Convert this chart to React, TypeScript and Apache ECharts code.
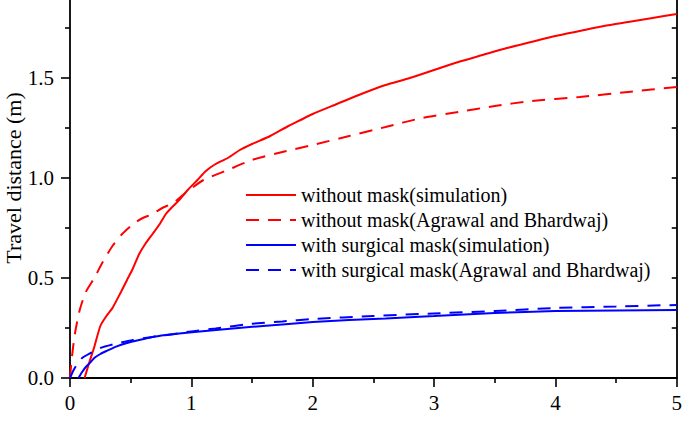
import React, { useEffect, useRef } from "react";
import * as echarts from "echarts";

const seriesNames = [
  "without mask(simulation)",
  "without mask(Agrawal and Bhardwaj)",
  "with surgical mask(simulation)",
  "with surgical mask(Agrawal and Bhardwaj)",
];

const noMaskSimX = [0.12, 0.16, 0.2, 0.25, 0.3, 0.35, 0.42, 0.47, 0.52, 0.57, 0.62, 0.68, 0.74, 0.79, 0.85, 0.9, 0.97, 1.05, 1.12, 1.2, 1.3, 1.4, 1.5, 1.65, 1.8, 1.9, 2.0, 2.2, 2.4, 2.6, 2.8, 3.0, 3.2, 3.4, 3.6, 3.8, 4.0, 4.2, 4.4, 4.6, 4.8, 5.0];
const noMaskSimY = [0, 0.08, 0.155, 0.26, 0.31, 0.35, 0.43, 0.49, 0.55, 0.62, 0.67, 0.72, 0.77, 0.82, 0.86, 0.89, 0.94, 0.99, 1.035, 1.07, 1.1, 1.14, 1.17, 1.21, 1.26, 1.29, 1.32, 1.37, 1.42, 1.465, 1.5, 1.54, 1.58, 1.615, 1.65, 1.68, 1.71, 1.735, 1.76, 1.78, 1.8, 1.82];

const noMaskABX = [0, 0.015, 0.04, 0.08, 0.13, 0.2, 0.27, 0.35, 0.43, 0.52, 0.6, 0.68, 0.76, 0.85, 0.95, 1.1, 1.3, 1.5, 1.75, 2.0, 2.3, 2.6, 2.9, 3.2, 3.5, 3.8, 4.2, 4.6, 5.0];
const noMaskABY = [0, 0.1, 0.22, 0.34, 0.43, 0.5, 0.58, 0.66, 0.72, 0.77, 0.8, 0.82, 0.85, 0.875, 0.925, 0.99, 1.04, 1.09, 1.13, 1.165, 1.21, 1.255, 1.3, 1.33, 1.36, 1.385, 1.405, 1.43, 1.455];

const maskSimX = [0.07, 0.1, 0.13, 0.16, 0.2, 0.25, 0.3, 0.38, 0.47, 0.57, 0.68, 0.79, 0.9, 1.07, 1.25, 1.48, 1.75, 2.0, 2.3, 2.6, 3.0, 3.5, 4.0, 4.5, 5.0];
const maskSimY = [0, 0.03, 0.055, 0.073, 0.1, 0.12, 0.135, 0.157, 0.175, 0.19, 0.205, 0.215, 0.223, 0.232, 0.243, 0.255, 0.268, 0.28, 0.29, 0.298, 0.31, 0.325, 0.335, 0.338, 0.34];

const maskABX = [0, 0.03, 0.06, 0.1, 0.17, 0.25, 0.38, 0.52, 0.65, 0.8, 1.0, 1.2, 1.48, 1.75, 2.0, 2.5, 3.0, 3.5, 4.0, 4.5, 5.0];
const maskABY = [0, 0.04, 0.07, 0.1, 0.125, 0.15, 0.172, 0.19, 0.203, 0.215, 0.233, 0.248, 0.27, 0.283, 0.295, 0.31, 0.323, 0.335, 0.35, 0.358, 0.365];

const yMajorTicks = [0, 0.5, 1.0, 1.5];
const yMinorTicks = [0.25, 0.75, 1.25, 1.75];
const yAllTicks = [0, 0.25, 0.5, 0.75, 1.0, 1.25, 1.5, 1.75];
const yTitle = "Travel distance (m)";

const FONT = "Liberation Serif";

const zip = (xs: number[], ys: number[]) => xs.map((x, i) => [x, ys[i]]);

export default function App() {
  const ref = useRef<HTMLDivElement>(null);
  useEffect(() => {
    if (!ref.current) return;
    const chart = echarts.init(ref.current, null, { renderer: "svg" });
    const axisLine = { show: true, lineStyle: { color: "#000", width: 1.8 } };
    const tickStyle = { color: "#000", width: 1.6 };
    const yMax = 1.89;
    const mkSeries = (name: string, xs: number[], ys: number[], color: string, dashed: boolean) => ({
      name,
      type: "line",
      data: zip(xs, ys),
      showSymbol: false,
      symbol: "none",
      smooth: 0.2,
      lineStyle: { color, width: 2, type: dashed ? [13, 9] : "solid" },
      itemStyle: { color },
    });
    chart.setOption({
      animation: false,
      backgroundColor: "#fff",
      textStyle: { fontFamily: FONT },
      grid: { left: 70, right: 5, top: 0, bottom: 47, containLabel: false },
      xAxis: {
        type: "value",
        min: 0,
        max: 5,
        interval: 1,
        axisLine,
        axisTick: { show: true, inside: false, length: 9, lineStyle: tickStyle },
        minorTick: { show: true, splitNumber: 2, length: 5, lineStyle: tickStyle },
        splitLine: { show: false },
        minorSplitLine: { show: false },
        axisLabel: { color: "#000", fontFamily: FONT, fontSize: 21, margin: 14 },
      },
      yAxis: [
        {
          type: "value",
          min: 0,
          max: yMax,
          position: "left",
          axisLine,
          axisTick: { show: true, inside: false, length: 9, customValues: yMajorTicks, lineStyle: tickStyle },
          splitLine: { show: false },
          axisLabel: {
            color: "#000",
            fontFamily: FONT,
            fontSize: 21,
            margin: 16,
            customValues: yMajorTicks,
            formatter: (v: number) => v.toFixed(1),
          },
        },
        {
          type: "value",
          min: 0,
          max: yMax,
          position: "left",
          axisLine: { show: false },
          axisTick: { show: true, inside: false, length: 5, customValues: yMinorTicks, lineStyle: tickStyle },
          splitLine: { show: false },
          axisLabel: { show: false },
        },
        {
          type: "value",
          min: 0,
          max: yMax,
          position: "right",
          axisLine,
          axisTick: { show: true, inside: true, length: 5, customValues: yAllTicks, lineStyle: tickStyle },
          splitLine: { show: false },
          axisLabel: { show: false },
        },
      ],
      legend: {
        orient: "vertical",
        left: 240,
        top: 180,
        itemWidth: 50,
        itemHeight: 14,
        itemGap: 5,
        itemStyle: { opacity: 0 },
        textStyle: { color: "#000", fontFamily: FONT, fontSize: 20 },
        data: seriesNames,
      },
      graphic: [
        {
          type: "text",
          x: 13,
          y: 178,
          rotation: Math.PI / 2,
          style: {
            text: yTitle,
            fill: "#000",
            fontFamily: FONT,
            fontSize: 22,
            textAlign: "center",
            textVerticalAlign: "middle",
          },
        },
      ],
      series: [
        mkSeries(seriesNames[0], noMaskSimX, noMaskSimY, "#ff0000", false),
        mkSeries(seriesNames[1], noMaskABX, noMaskABY, "#ff0000", true),
        mkSeries(seriesNames[2], maskSimX, maskSimY, "#0000ff", false),
        mkSeries(seriesNames[3], maskABX, maskABY, "#0000ff", true),
      ],
    });
    return () => chart.dispose();
  }, []);
  return <div ref={ref} style={{ width: 685, height: 425, position: "fixed", left: 0, top: 0 }} />;
}
